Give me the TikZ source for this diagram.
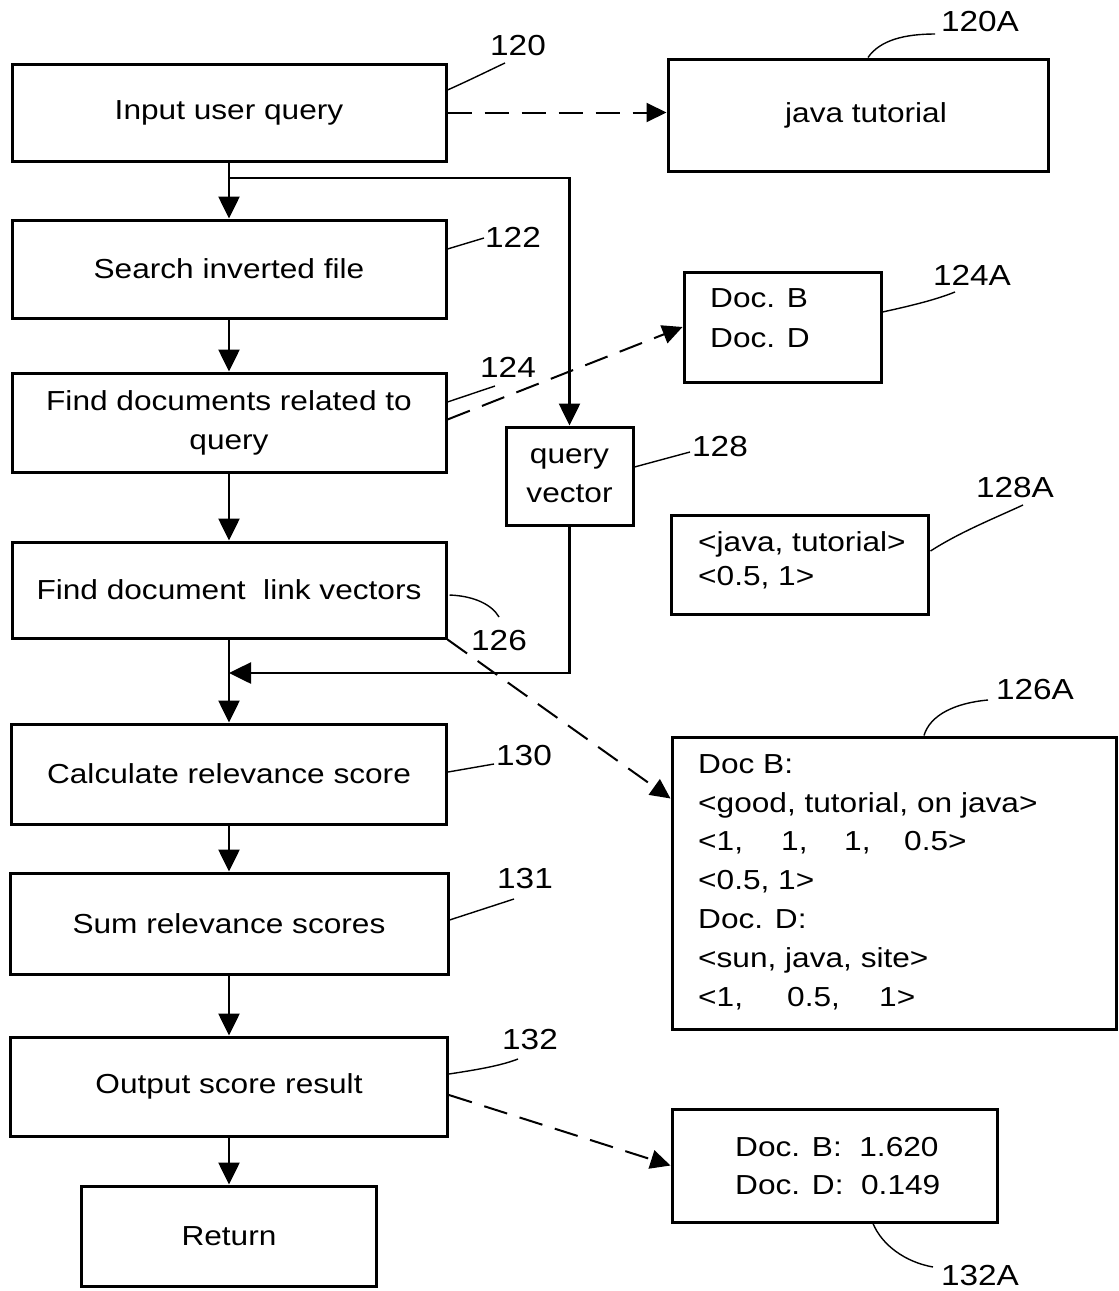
\documentclass[tikz,border=0pt]{standalone}
\usepackage{fontspec}
\setmainfont{Liberation Sans}[FakeStretch=1.15]
\usetikzlibrary{arrows.meta}

\tikzset{
  box/.style={draw, line width=3pt, inner sep=0pt, align=center,
              font=\fontsize{27.5}{39}\selectfont},
  txt/.style={inner sep=0pt, anchor=base west, font=\fontsize{27.5}{39}\selectfont},
  refnum/.style={inner sep=0pt, font=\fontsize{29}{29}\selectfont},
  flow/.style={line width=2.6pt, -{Triangle[length=22pt,width=21pt]}},
  dashflow/.style={line width=2pt, dash pattern=on 24pt off 13pt,
                   -{Triangle[length=20pt,width=19pt]}},
  leader/.style={line width=1.4pt}
}

\begin{document}
\begin{tikzpicture}[x=1pt, y=-1pt]
\useasboundingbox (0,0) rectangle (1119,1291);

% main flow, left column
\node[box, minimum width=434pt, minimum height=97pt]  (b120) at (229,112.5) {Input user query};
\node[box, minimum width=434pt, minimum height=98pt]  (b122) at (229,269)   {Search inverted file};
\node[box, minimum width=434pt, minimum height=99pt]  (b124) at (229,422.5) {Find documents related to\\query};
\node[box, minimum width=434pt, minimum height=96pt]  (b126) at (229,590)   {Find document\ \ link vectors};
\node[box, minimum width=435pt, minimum height=100pt] (b130) at (229,774)   {Calculate relevance score};
\node[box, minimum width=438pt, minimum height=101pt] (b131) at (229,923.5) {Sum relevance scores};
\node[box, minimum width=437pt, minimum height=99pt]  (b132) at (229,1086.5){Output score result};
\node[box, minimum width=295pt, minimum height=100pt] (bret) at (229,1236)  {Return};

% query vector
\node[box, minimum width=127pt, minimum height=98pt] (qv) at (569.5,476) {query\\vector};

% example boxes on the right
\node[box, minimum width=380pt, minimum height=112pt] (a120) at (858,115) {\hspace*{16pt}java tutorial};
\node[box, minimum width=197pt, minimum height=110pt] (a124) at (782.5,327) {};
\node[box, minimum width=257pt, minimum height=99pt]  (a128) at (799.5,564.5) {};
\node[box, minimum width=444pt, minimum height=292pt] (a126) at (894,883) {};
\node[box, minimum width=325pt, minimum height=113pt] (a132) at (834.5,1165.5) {};

% contents of the example boxes
\node[txt] (t124a) at (710,307) {Doc. B};
\node[txt] (t124b) at (710,347) {Doc. D};

\node[txt] (t128a) at (698,551) {<java, tutorial>};
\node[txt] (t128b) at (698,585) {<0.5, 1>};

\node[txt] (t126a) at (698,773)  {Doc B:};
\node[txt] (t126b) at (698,812)  {<good, tutorial, on java>};
\node[txt] (t126c) at (698,850)  {\makebox[83pt][l]{<1,}\makebox[63pt][l]{1,}\makebox[60pt][l]{1,}0.5>};
\node[txt] (t126d) at (698,889)  {<0.5, 1>};
\node[txt] (t126e) at (698,928)  {Doc. D:};
\node[txt] (t126f) at (698,967)  {<sun, java, site>};
\node[txt] (t126g) at (698,1006) {\makebox[89pt][l]{<1,}\makebox[92pt][l]{0.5,}1>};

\node[txt] (t132a) at (735,1156) {Doc. B:\ \ 1.620};
\node[txt] (t132b) at (735,1194) {Doc. D:\ \ 0.149};

% reference numerals
\node[refnum] (l120)  at (518,46)    {120};
\node[refnum] (l120A) at (980,22)    {120A};
\node[refnum] (l122)  at (513,237)   {122};
\node[refnum] (l124)  at (508,367)   {124};
\node[refnum] (l124A) at (972,275)   {124A};
\node[refnum] (l128)  at (720,447)   {128};
\node[refnum] (l128A) at (1015,488)  {128A};
\node[refnum] (l126)  at (499,641)   {126};
\node[refnum] (l126A) at (1035,690)  {126A};
\node[refnum] (l130)  at (524,756)   {130};
\node[refnum] (l131)  at (525,879)   {131};
\node[refnum] (l132)  at (530,1040)  {132};
\node[refnum] (l132A) at (980,1276)  {132A};

% leader line ends next to the numerals
\coordinate (k120)  at (505,63);
\coordinate (k120A) at (935,34);
\coordinate (k122)  at (484,238);
\coordinate (k124)  at (495,386);
\coordinate (k124A) at (955,292);
\coordinate (k128)  at (690,452);
\coordinate (k128A) at (1023,505);
\coordinate (k126)  at (499,617);
\coordinate (k126A) at (988,700);
\coordinate (k130)  at (494,764);
\coordinate (k131)  at (514,899);
\coordinate (k132)  at (518,1059);
\coordinate (k132A) at (933,1267);

% flow arrows
\draw[flow] (b120) -- (b122);
\draw[flow] (b122) -- (b124);
\draw[flow] (b124) -- (b126);
\draw[flow] (b126) -- (b130);
\draw[flow] (b130) -- (b131);
\draw[flow] (b131) -- (b132);
\draw[flow] (b132) -- (bret);

% branch to the query vector and its return into the main flow
\coordinate (split) at (229,178);
\coordinate (merge) at (229,673);
\draw[flow] (split) -| (qv.north);
\draw[flow] (qv.south) |- (merge);

% dashed links to the examples
\draw[dashflow] (b120.east) -- (b120.east -| a120.west);
\draw[dashflow] ([yshift=3pt]b124.east) -- (a124.west);
\draw[dashflow] (b126.south east) -- ([yshift=-63pt]a126.north west);
\draw[dashflow] ([yshift=-8.5pt]b132.east) -- (a132.west);

% leader lines
\draw[leader] ([yshift=22.5pt]b120.east) .. controls (470,80) and (490,70) .. (k120);
\draw[leader] ([xshift=10pt]a120.north) .. controls (880,40) and (905,34) .. (k120A);
\draw[leader] ([yshift=20pt]b122.east) -- (k122);
\draw[leader] ([yshift=20.5pt]b124.east) -- (k124);
\draw[leader] ([yshift=15pt]a124.east) .. controls (910,306) and (935,300) .. (k124A);
\draw[leader] ([yshift=9pt]qv.east) -- (k128);
\draw[leader] ([yshift=13.5pt,xshift=1pt]a128.east) .. controls (960,532) and (995,518) .. (k128A);
\draw[leader] ([yshift=-5pt,xshift=2pt]b126.east) .. controls (475,596) and (492,605) .. (k126);
\draw[leader] ([xshift=30pt]a126.north) .. controls (930,715) and (955,703) .. (k126A);
\draw[leader] ([yshift=2pt]b130.east) -- (k130);
\draw[leader] ([yshift=3.5pt]b131.east) -- (k131);
\draw[leader] ([yshift=12.5pt]b132.east) .. controls (475,1070) and (500,1066) .. (k132);
\draw[leader] ([xshift=38.5pt]a132.south) .. controls (882,1245) and (905,1262) .. (k132A);
\end{tikzpicture}
\end{document}
